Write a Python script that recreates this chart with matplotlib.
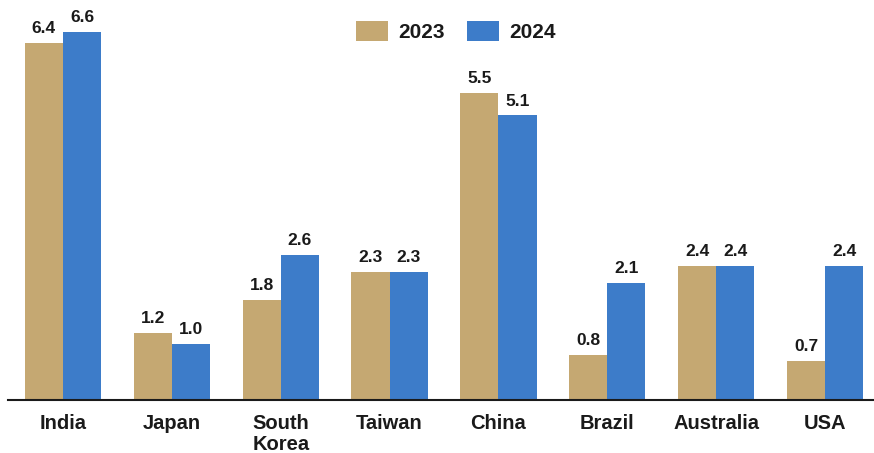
import matplotlib
matplotlib.use("Agg")
import matplotlib.pyplot as plt
import numpy as np

plt.rcParams["font.family"] = ["Liberation Sans", "DejaVu Sans"]

countries = ["India", "Japan", "South\nKorea", "Taiwan", "China", "Brazil", "Australia", "USA"]
values_2023 = [6.4, 1.2, 1.8, 2.3, 5.5, 0.8, 2.4, 0.7]
values_2024 = [6.6, 1.0, 2.6, 2.3, 5.1, 2.1, 2.4, 2.4]

color_2023 = "#C5A872"
color_2024 = "#3D7CC9"
text_color = "#1a1a1a"

fig = plt.figure(figsize=(8.74, 4.53), dpi=100)
ax = fig.add_axes([8 / 874, 53 / 453, 866 / 874, 400 / 453])

x = np.arange(len(countries))
width = 0.35
bars_a = ax.bar(x - width / 2, values_2023, width, color=color_2023, label="2023")
bars_b = ax.bar(x + width / 2, values_2024, width, color=color_2024, label="2024")

# value labels above each bar
for bars, vals in ((bars_a, values_2023), (bars_b, values_2024)):
    for b, v in zip(bars, vals):
        ax.annotate(f"{v:.1f}", (b.get_x() + b.get_width() / 2, v),
                    xytext=(0, 5), textcoords="offset points",
                    ha="center", va="bottom", fontsize=12.5,
                    fontweight="bold", color=text_color)

ax.set_xlim(-0.505, 7.45)
ax.set_ylim(0, 7.17)
ax.set_xticks(x)
ax.set_xticklabels(countries, fontsize=14.5, fontweight="bold", color=text_color,
                   linespacing=1.15)
ax.tick_params(axis="x", length=0, pad=10)
ax.set_yticks([])

for side in ("top", "right", "left"):
    ax.spines[side].set_visible(False)
ax.spines["bottom"].set_color("#1a1a1a")
ax.spines["bottom"].set_linewidth(1.5)

leg = ax.legend(loc="upper center", bbox_to_anchor=(456 / 874, 1.0),
                bbox_transform=fig.transFigure, ncol=2, frameon=False,
                prop={"size": 15, "weight": "bold"}, handlelength=1.5,
                handleheight=1.1, handletextpad=0.5, columnspacing=1.1,
                borderaxespad=0.6)
for t in leg.get_texts():
    t.set_color(text_color)

fig.savefig("out.png", dpi=100)
